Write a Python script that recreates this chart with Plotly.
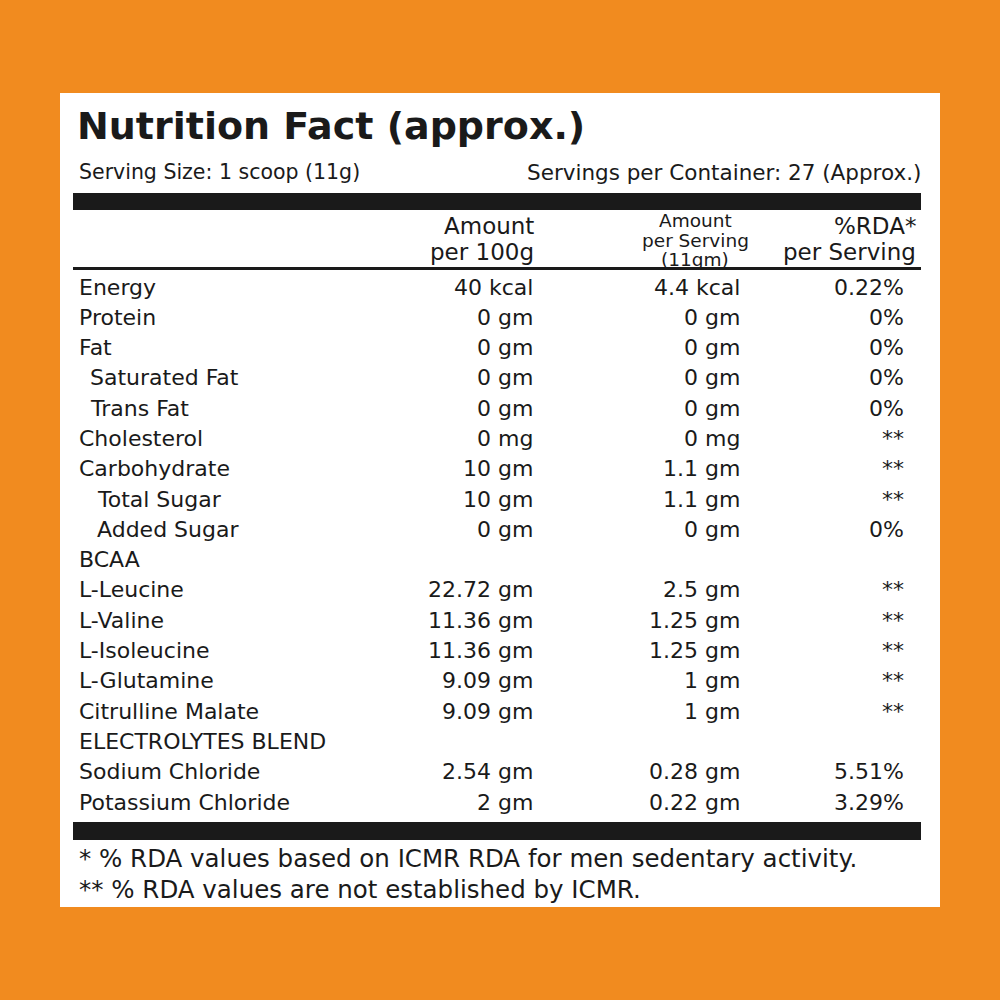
import plotly.graph_objects as go

# label data
nutrients = ['Energy', 'Protein', 'Fat', 'Saturated Fat', 'Trans Fat', 'Cholesterol',
             'Carbohydrate', 'Total Sugar', 'Added Sugar', 'BCAA', 'L-Leucine', 'L-Valine',
             'L-Isoleucine', 'L-Glutamine', 'Citrulline Malate', 'ELECTROLYTES BLEND',
             'Sodium Chloride', 'Potassium Chloride']
per_100g = ['40 kcal', '0 gm', '0 gm', '0 gm', '0 gm', '0 mg', '10 gm', '10 gm', '0 gm', '',
            '22.72 gm', '11.36 gm', '11.36 gm', '9.09 gm', '9.09 gm', '', '2.54 gm', '2 gm']
per_serving = ['4.4 kcal', '0 gm', '0 gm', '0 gm', '0 gm', '0 mg', '1.1 gm', '1.1 gm', '0 gm', '',
               '2.5 gm', '1.25 gm', '1.25 gm', '1 gm', '1 gm', '', '0.28 gm', '0.22 gm']
rda = ['0.22%', '0%', '0%', '0%', '0%', '**', '**', '**', '0%', '',
       '**', '**', '**', '**', '**', '', '5.51%', '3.29%']
indent = [0, 0, 0, 1, 1, 0, 0, 2, 2, 0, 0, 0, 0, 0, 0, 0, 0, 0]

title = 'Nutrition Fact (approx.)'
serving_size = 'Serving Size: 1 scoop (11g)'
servings_per = 'Servings per Container: 27 (Approx.)'
footnotes = ['* % RDA values based on ICMR RDA for men sedentary activity.',
             '** % RDA values are not established by ICMR.']

ORANGE = '#F18B1F'
INK = '#1a1a1a'
BODY = 'DejaVu Sans'

fig = go.Figure()
# invisible trace to set up the axes
fig.add_trace(go.Scatter(x=[0, 1000], y=[0, 1000], mode='markers',
                         marker=dict(opacity=0), hoverinfo='skip', showlegend=False))

shapes = [
    dict(type='rect', x0=60, x1=940, y0=93, y1=907, fillcolor='white', line_width=0, layer='below'),
    dict(type='rect', x0=73, x1=921, y0=193, y1=210, fillcolor=INK, line_width=0),
    dict(type='rect', x0=73, x1=921, y0=267, y1=270, fillcolor=INK, line_width=0),
    dict(type='rect', x0=73, x1=921, y0=822, y1=840, fillcolor=INK, line_width=0),
]

ann = []
def txt(x, y, s, size, anchor='left', bold=False, family=BODY):
    ann.append(dict(x=x, y=y, xref='x', yref='y', text=f'<b>{s}</b>' if bold else s,
                    showarrow=False, xanchor=anchor, yanchor='middle',
                    font=dict(family=family, size=size, color=INK)))

txt(75, 126, title, 38, bold=True)
txt(77, 172, serving_size, 20.5)
txt(923, 172, servings_per, 21.5, anchor='right')

# column headers
txt(536, 226, 'Amount', 23, anchor='right')
txt(536, 252, 'per 100g', 23, anchor='right')
txt(695, 220, 'Amount', 18.5, anchor='center')
txt(695, 240, 'per Serving', 18.5, anchor='center')
txt(695, 259, '(11gm)', 18.5, anchor='center')
txt(918, 226, '%RDA*', 23, anchor='right')
txt(918, 252, 'per Serving', 23, anchor='right')

row_h = (802 - 287) / (len(nutrients) - 1)
for i, name in enumerate(nutrients):
    y = 287 + i * row_h
    txt(77 + [0, 11, 18][indent[i]], y, name, 22)
    txt(535, y, per_100g[i], 22, anchor='right')
    txt(742, y, per_serving[i], 22, anchor='right')
    txt(906, y, rda[i], 22, anchor='right')

txt(77, 858, footnotes[0], 24.5)
txt(77, 889, footnotes[1], 24.5)

fig.update_layout(
    width=1000, height=1000, margin=dict(l=0, r=0, t=0, b=0),
    paper_bgcolor=ORANGE, plot_bgcolor=ORANGE,
    xaxis=dict(range=[0, 1000], visible=False, fixedrange=True),
    yaxis=dict(range=[1000, 0], visible=False, fixedrange=True),
    shapes=shapes, annotations=ann,
)

fig.write_html('out.html', config={'displayModeBar': False},
               post_script="document.body.style.margin='0';")
